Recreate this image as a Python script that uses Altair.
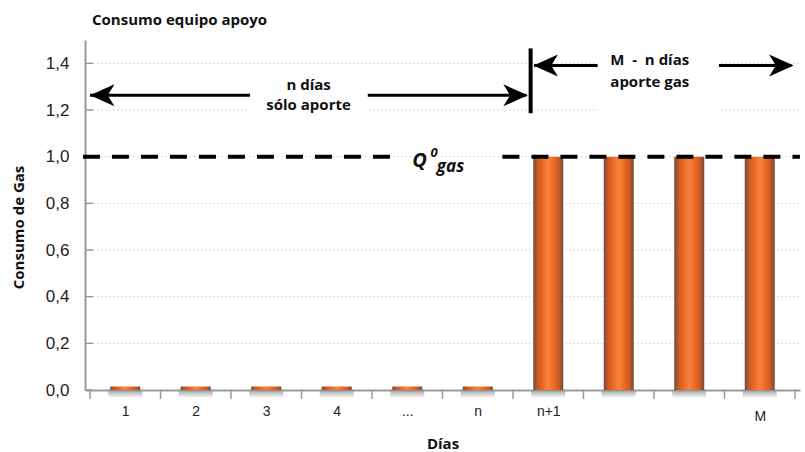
import altair as alt
import pandas as pd

# ---------------- data ----------------
tick_labels = ["1", "2", "3", "4", "...", "n", "n+1", "", "", "M"]
day_pos = [0.5, 1.5, 2.5, 3.5, 4.5, 5.5, 6.5, 7.5, 8.5, 9.5]
values = [0.015, 0.015, 0.015, 0.015, 0.015, 0.015, 1.0, 1.0, 1.0, 1.0]
shadow = [-0.035, -0.035, -0.035, -0.035, -0.035, -0.035, -0.035, -0.035, -0.035, -0.035]
x_ticks = [0, 1, 2, 3, 4, 5, 6, 7, 8, 9, 10]
y_ticks = [0.0, 0.2, 0.4, 0.6, 0.8, 1.0, 1.2, 1.4]
grid_y = [0.2, 0.4, 0.6, 0.8, 1.0, 1.2, 1.4]

# annotation geometry in "day index" units (0..10) and y units
arrow_x = [0.0, 3.94, 6.30, 8.92]
arrow_x2 = [2.27, 6.19, 7.20, 9.95]
arrow_y = [1.263, 1.263, 1.391, 1.391]
divider_x = [6.25]
divider_y = [1.186]
divider_y2 = [1.464]
head_left_x = [0.0, 6.29]
head_left_y = [1.263, 1.391]
head_right_x = [6.21, 9.98]
head_right_y = [1.263, 1.391]
q_line_x = [-0.1, 5.85]
q_line_x2 = [4.29, 10.07]
q_line_y = [1.0, 1.0]
mask_x = [2.27, 7.20]
mask_x2 = [3.94, 8.92]
mask_y = [1.15, 1.16]
mask_y2 = [1.34, 1.5]
note_text = ["n días", "sólo aporte", "M\u00a0 -\u00a0 n días", "aporte gas"]
note_x = [3.10, 3.10, 7.94, 7.94]
note_y = [1.306, 1.220, 1.413, 1.318]
q_text = ["Q", "0", "gas"]
q_x = [4.57, 4.83, 4.92]
q_y = [0.955, 1.0, 0.935]
q_size = [20, 13, 17]

W, H = 715, 350
BOLD = "Open Sans"

xscale = alt.Scale(domain=[0, 10], nice=False, zero=False)
yscale = alt.Scale(domain=[0, 1.5], nice=False, zero=True)
label_expr = "[" + ",".join("'%s'" % t for t in tick_labels) + "][floor(datum.value)]"

XAX = alt.Axis(
    values=day_pos, tickSize=0, tickOpacity=0, grid=False, labelExpr=label_expr,
    domainColor="#9a9a9a", domainWidth=2, labelAngle=0,
    labelFont="Liberation Sans", labelFontSize=14, labelColor="#222",
    labelPadding={"condition": {"test": "datum.value > 9", "value": 19}, "value": 14},
    labelBaseline="top",
    titleFont=BOLD, titleFontSize=15, titleFontWeight="bold", titleColor="#111", titlePadding=13,
)
YAX = alt.Axis(
    values=y_ticks, tickSize=0, tickOpacity=0, grid=False, labelPadding=16,
    labelExpr="replace(format(datum.value, '.1f'), '.', ',')",
    labelFont="Liberation Sans", labelFontSize=17, labelColor="#222",
    domainColor="#9a9a9a", domainWidth=2,
    titleFont=BOLD, titleFontSize=15, titleFontWeight="bold", titleColor="#111",
    titleX=-67, titleY=187, titleAngle=270, titleAlign="center", titleBaseline="middle",
)
XT, YT = "Días", "Consumo de Gas"


def X(f):
    return alt.X(f, scale=xscale, axis=XAX, title=XT)


def Y(f):
    return alt.Y(f, scale=yscale, axis=YAX, title=YT)


df = pd.DataFrame({"x": day_pos, "v": values, "s": shadow, "zero": [0.0] * len(values)})

bar_grad = alt.LinearGradient(
    gradient="linear", x1=0, x2=1, y1=0, y2=0,
    stops=[
        alt.GradientStop(color="#6f4b3e", offset=0.0),
        alt.GradientStop(color="#c75b25", offset=0.14),
        alt.GradientStop(color="#ee6a22", offset=0.32),
        alt.GradientStop(color="#f58440", offset=0.5),
        alt.GradientStop(color="#ee6a22", offset=0.68),
        alt.GradientStop(color="#c75b25", offset=0.86),
        alt.GradientStop(color="#6f4b3e", offset=1.0),
    ],
)
shadow_grad = alt.LinearGradient(
    gradient="linear", x1=0, x2=0, y1=0, y2=1,
    stops=[alt.GradientStop(color="#8a8a8a", offset=0.0), alt.GradientStop(color="#ffffff", offset=1.0)],
)

grid = alt.Chart(pd.DataFrame({"y": grid_y})).mark_rule(
    color="#d9d9d9", strokeWidth=1, strokeDash=[2, 2]
).encode(y=Y("y:Q"), x=alt.value(0), x2=alt.value(W))

bars = alt.Chart(df).mark_bar(width=30, color=bar_grad).encode(x=X("x:Q"), y=Y("v:Q"))
shadow_layer = alt.Chart(df).mark_bar(width=34, color=shadow_grad, opacity=0.8).encode(
    x=X("x:Q"), y=Y("zero:Q"), y2="s:Q"
)
xticks = alt.Chart(pd.DataFrame({"x": x_ticks})).mark_rule(color="#9a9a9a", strokeWidth=1.5).encode(
    x=X("x:Q"), y=alt.value(H), y2=alt.value(H + 9)
)
yticks = alt.Chart(pd.DataFrame({"y": y_ticks})).mark_rule(color="#9a9a9a", strokeWidth=1.5).encode(
    y=Y("y:Q"), x=alt.value(0), x2=alt.value(8)
)
mask = alt.Chart(pd.DataFrame({"x": mask_x, "x2": mask_x2, "y": mask_y, "y2": mask_y2})).mark_rect(color="white").encode(
    x=X("x:Q"), x2="x2:Q", y=Y("y:Q"), y2="y2:Q",
)
qline = alt.Chart(pd.DataFrame({"x": q_line_x, "x2": q_line_x2, "y": q_line_y})).mark_rule(
    color="black", strokeWidth=4, strokeDash=[17, 12]
).encode(x=X("x:Q"), x2="x2:Q", y=Y("y:Q"))
arrows = alt.Chart(pd.DataFrame({"x": arrow_x, "x2": arrow_x2, "y": arrow_y})).mark_rule(
    color="black", strokeWidth=3
).encode(x=X("x:Q"), x2="x2:Q", y=Y("y:Q"))
divider = alt.Chart(pd.DataFrame({"x": divider_x, "y": divider_y, "y2": divider_y2})).mark_rule(
    color="black", strokeWidth=4
).encode(x=X("x:Q"), y=Y("y:Q"), y2="y2:Q")
head_l = alt.Chart(pd.DataFrame({"x": head_left_x, "y": head_left_y})).mark_point(
    shape="M0,0 L2,-0.9 L1.45,0 L2,0.9 Z", filled=True, color="black", opacity=1, size=600, strokeWidth=0
).encode(x=X("x:Q"), y=Y("y:Q"))
head_r = alt.Chart(pd.DataFrame({"x": head_right_x, "y": head_right_y})).mark_point(
    shape="M0,0 L-2,-0.9 L-1.45,0 L-2,0.9 Z", filled=True, color="black", opacity=1, size=600, strokeWidth=0
).encode(x=X("x:Q"), y=Y("y:Q"))
notes = alt.Chart(pd.DataFrame({"t": note_text, "x": note_x, "y": note_y})).mark_text(
    font=BOLD, fontSize=15, fontWeight="bold", color="#111", baseline="middle", align="center"
).encode(x=X("x:Q"), y=Y("y:Q"), text="t:N")
qlab = alt.Chart(pd.DataFrame({"t": q_text, "x": q_x, "y": q_y, "fs": q_size})).mark_text(
    font=BOLD, fontWeight="bold", fontStyle="italic", color="#111", baseline="alphabetic", align="left"
).encode(x=X("x:Q"), y=Y("y:Q"), text="t:N", size=alt.Size("fs:Q", scale=None, legend=None))

chart = alt.layer(
    grid, bars, shadow_layer, xticks, yticks, mask, qline, arrows, divider, head_l, head_r, notes, qlab
).properties(
    width=W, height=H,
    title=alt.TitleParams(
        "Consumo equipo apoyo", anchor="start", font=BOLD, fontSize=15, fontWeight="bold",
        color="#111", offset=0, dx=7, baseline="alphabetic", frame="group",
    ),
    autosize=alt.AutoSizeParams(type="none"),
    padding={"left": 85, "right": 5, "top": 40, "bottom": 62},
).configure_view(stroke=None)

chart.save("out.html", embed_options={"renderer": "svg", "actions": False})
